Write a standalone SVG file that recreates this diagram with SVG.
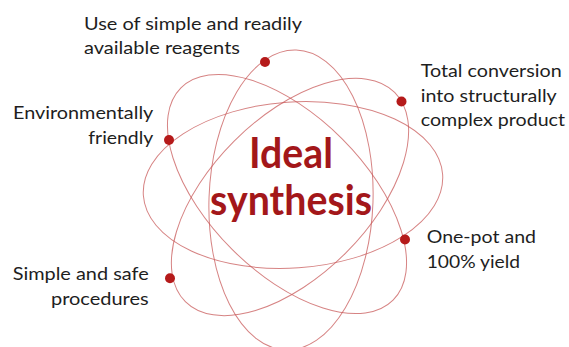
<svg xmlns="http://www.w3.org/2000/svg" width="569" height="347" viewBox="0 0 569 347">
  <style>
    .orbit { fill: none; stroke: #c85a5a; stroke-opacity: 0.75; stroke-width: 1; }
    .dot { fill: #b51a1a; }
    .label { font-family: Lato, "Open Sans", "Liberation Sans", sans-serif; font-size: 18px; fill: #1e1e1e; }
    .title { font-family: Lato, "Open Sans", "Liberation Sans", sans-serif; font-size: 42px; font-weight: bold; fill: #a3171a; }
  </style>
  <rect width="569" height="347" fill="#ffffff"/>

  <!-- orbits -->
  <g id="connectors">
    <ellipse class="orbit" cx="293" cy="185" rx="150" ry="83" transform="rotate(-4 293 185)"/>
    <ellipse class="orbit" cx="291" cy="200" rx="82" ry="150" transform="rotate(2 291 200)"/>
    <ellipse class="orbit" cx="287" cy="194" rx="150" ry="78" transform="rotate(45 287 194)"/>
    <ellipse class="orbit" cx="290" cy="197" rx="148" ry="79" transform="rotate(-45 290 197)"/>
  </g>

  <g id="center">
    <text class="title" x="249" y="168" textLength="84" lengthAdjust="spacingAndGlyphs">Ideal</text>
    <text class="title" x="210" y="215" textLength="162" lengthAdjust="spacingAndGlyphs">synthesis</text>
  </g>

  <g id="reagents">
    <circle class="dot" cx="265" cy="62" r="5"/>
    <text class="label" x="84" y="29.5" textLength="218" lengthAdjust="spacingAndGlyphs">Use of simple and readily</text>
    <text class="label" x="84" y="53.5" textLength="156" lengthAdjust="spacingAndGlyphs">available reagents</text>
  </g>

  <g id="conversion">
    <circle class="dot" cx="401.5" cy="101.5" r="5"/>
    <text class="label" x="420.7" y="76.7" textLength="141" lengthAdjust="spacingAndGlyphs">Total conversion</text>
    <text class="label" x="420.7" y="101.7" textLength="136" lengthAdjust="spacingAndGlyphs">into structurally</text>
    <text class="label" x="420.7" y="126" textLength="144.3" lengthAdjust="spacingAndGlyphs">complex product</text>
  </g>

  <g id="environment">
    <circle class="dot" cx="169" cy="140" r="5"/>
    <text class="label" x="13" y="119" textLength="140.3" lengthAdjust="spacingAndGlyphs">Environmentally</text>
    <text class="label" x="88.3" y="144" textLength="65" lengthAdjust="spacingAndGlyphs">friendly</text>
  </g>

  <g id="one-pot">
    <circle class="dot" cx="405" cy="239.5" r="5"/>
    <text class="label" x="426.7" y="242.7" textLength="109.3" lengthAdjust="spacingAndGlyphs">One-pot and</text>
    <text class="label" x="426.7" y="267.7" textLength="93.3" lengthAdjust="spacingAndGlyphs">100% yield</text>
  </g>

  <g id="procedures">
    <circle class="dot" cx="170" cy="278.3" r="5"/>
    <text class="label" x="12.7" y="280" textLength="136" lengthAdjust="spacingAndGlyphs">Simple and safe</text>
    <text class="label" x="51" y="305" textLength="97.6" lengthAdjust="spacingAndGlyphs">procedures</text>
  </g>
</svg>
